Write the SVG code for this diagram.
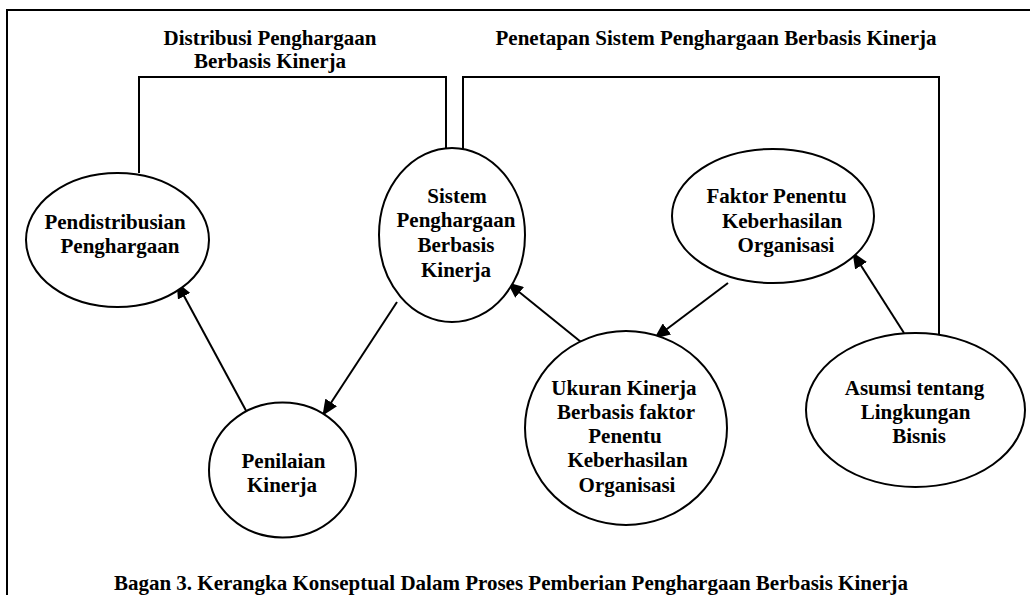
<svg xmlns="http://www.w3.org/2000/svg" width="1030" height="595" viewBox="0 0 1030 595">
<style>
text{font-family:"Liberation Serif","Times New Roman",serif;font-weight:bold;font-size:21px;fill:#000;text-anchor:middle}
.node ellipse{fill:#fff;stroke:#000;stroke-width:2}
.conn path,.conn line{fill:none;stroke:#000;stroke-width:2}
</style>
<defs>
<marker id="arr" markerUnits="userSpaceOnUse" markerWidth="16" markerHeight="14" refX="15" refY="7" orient="auto">
<path d="M0,0 L16,7 L0,14 z" fill="#000"/>
</marker>
</defs>
<rect x="0" y="0" width="1030" height="595" fill="#fff"/>
<path d="M7,600 V10 H1035" fill="none" stroke="#000" stroke-width="2"/>
<g id="labels">
<text x="270" y="45">Distribusi Penghargaan</text>
<text x="270" y="68">Berbasis Kinerja</text>
<text x="716" y="45">Penetapan Sistem Penghargaan Berbasis Kinerja</text>
<text x="511" y="590">Bagan 3. Kerangka Konseptual Dalam Proses Pemberian Penghargaan Berbasis Kinerja</text>
</g>
<g class="conn" id="connectors">
<path d="M139,173 V77 H446 V173"/>
<path d="M463,173 V77 H939 V347"/>
<line x1="250" y1="418" x2="177" y2="283" marker-end="url(#arr)"/>
<line x1="397" y1="302" x2="323" y2="415" marker-end="url(#arr)"/>
<line x1="581" y1="342" x2="508" y2="283" marker-end="url(#arr)"/>
<line x1="728" y1="283" x2="655" y2="338" marker-end="url(#arr)"/>
<line x1="904" y1="333" x2="853" y2="253" marker-end="url(#arr)"/>
</g>
<g class="node" id="pendistribusian">
<ellipse cx="117.5" cy="240" rx="91.5" ry="67"/>
<text x="115" y="229">Pendistribusian</text>
<text x="120" y="253">Penghargaan</text>
</g>
<g class="node" id="sistem">
<ellipse cx="452" cy="235" rx="73" ry="87"/>
<text x="457" y="203">Sistem</text>
<text x="456" y="227">Penghargaan</text>
<text x="456" y="252">Berbasis</text>
<text x="456" y="277">Kinerja</text>
</g>
<g class="node" id="faktor">
<ellipse cx="773" cy="216" rx="101" ry="67"/>
<text x="776.5" y="203">Faktor Penentu</text>
<text x="782" y="228">Keberhasilan</text>
<text x="786" y="252">Organisasi</text>
</g>
<g class="node" id="penilaian">
<ellipse cx="282.5" cy="470" rx="73.5" ry="67.5"/>
<text x="283.5" y="468">Penilaian</text>
<text x="282" y="492">Kinerja</text>
</g>
<g class="node" id="ukuran">
<ellipse cx="626" cy="428" rx="101" ry="97"/>
<text x="624" y="395">Ukuran Kinerja</text>
<text x="626" y="419">Berbasis faktor</text>
<text x="625" y="443">Penentu</text>
<text x="627.5" y="467">Keberhasilan</text>
<text x="627" y="492">Organisasi</text>
</g>
<g class="node" id="asumsi">
<ellipse cx="915.5" cy="410" rx="109.5" ry="77"/>
<text x="914.5" y="395">Asumsi tentang</text>
<text x="915.5" y="419">Lingkungan</text>
<text x="919" y="443">Bisnis</text>
</g>
</svg>
